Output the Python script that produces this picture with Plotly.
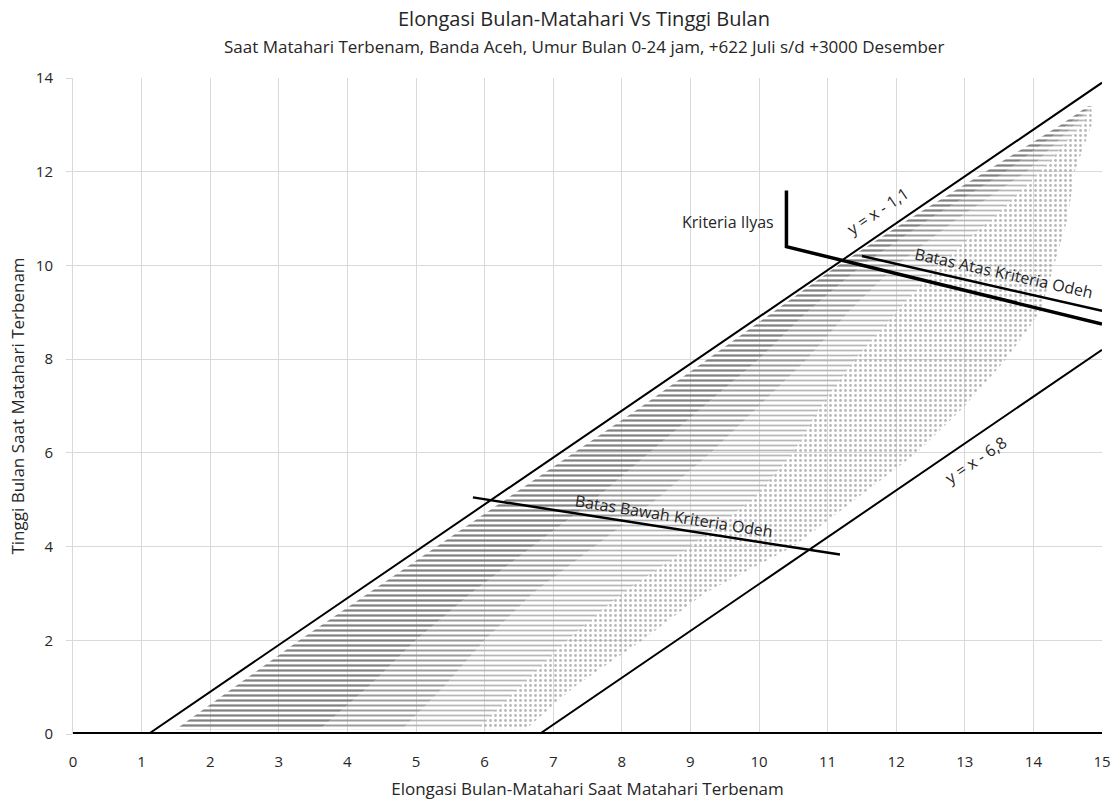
import plotly.graph_objects as go

# ---- Data ----
# Density band of simulated Moon positions (boundaries)
band_y        = [0.1, 1.0, 2.0, 3.0, 4.0, 5.0, 6.0, 7.0, 8.0, 9.0, 10.0, 11.0, 12.0, 13.0, 13.4]
band_left_x   = [1.5, 2.35, 3.3, 4.3, 5.3, 6.3, 7.3, 8.3, 9.25, 10.2, 11.15, 12.2, 13.3, 14.4, 14.8]
band_dense1_x = [3.6, 4.3, 5.0, 5.8, 6.7, 7.6, 8.4, 9.2, 10.0, 10.7, 11.5, 12.5, 13.6, 14.5, 14.85]
band_dense2_x = [4.8, 5.4, 6.0, 6.7, 7.6, 8.5, 9.3, 10.0, 10.7, 11.3, 12.0, 12.9, 13.9, 14.6, 14.85]
band_mid_x    = [5.9, 6.5, 7.2, 8.0, 9.0, 9.9, 10.5, 10.9, 11.4, 12.0, 12.6, 13.4, 14.1, 14.7, 14.85]
band_outer_x  = [6.6, 7.3, 8.3, 9.2, 10.5, 11.4, 12.3, 13.0, 13.6, 14.1, 14.3, 14.5, 14.6, 14.85, 14.85]

# Reference lines
upper_line_x = [1.1, 15.0]   # y = x - 1,1
upper_line_y = [0.0, 13.9]
lower_line_x = [6.8, 15.0]   # y = x - 6,8
lower_line_y = [0.0, 8.2]
ilyas_x = [10.4, 10.4, 15.0]
ilyas_y = [11.6, 10.4, 8.75]
odeh_atas_x = [11.5, 15.0]
odeh_atas_y = [10.2, 9.03]
odeh_bawah_x = [5.83, 11.18]
odeh_bawah_y = [5.05, 3.83]
base_x = [0.0, 15.0]
base_y = [0.0, 0.0]

x_ticks = list(range(0, 16))
y_ticks = [0, 2, 4, 6, 8, 10, 12, 14]

FONT = "Open Sans"
TXT = "#262626"

fig = go.Figure()

def band(x_a, x_b, ys, shape, size, solidity, color):
    xs = list(x_a) + list(reversed(x_b))
    yy = list(ys) + list(reversed(ys))
    fig.add_trace(go.Scatter(
        x=xs + [xs[0]], y=yy + [yy[0]], mode="lines",
        line=dict(width=0, color="rgba(0,0,0,0)"),
        fill="toself", fillcolor="rgba(0,0,0,0)",
        fillpattern=dict(shape=shape, size=size, solidity=solidity,
                         fgcolor=color, bgcolor="rgba(0,0,0,0)", fillmode="replace"),
        hoverinfo="skip", showlegend=False))

band(band_mid_x, band_outer_x, band_y, ".", 5, 0.25, "rgba(170,170,170,0.85)")
band(band_dense2_x, band_mid_x, band_y, "-", 5, 0.35, "rgba(175,175,175,0.9)")
band(band_dense1_x, band_dense2_x, band_y, "-", 5, 0.4, "rgba(145,145,145,0.9)")
band(band_left_x, band_dense1_x, band_y, "-", 5, 0.45, "rgba(115,115,115,0.9)")

def line(xs, ys, w):
    fig.add_trace(go.Scatter(x=xs, y=ys, mode="lines",
                             line=dict(color="black", width=w),
                             hoverinfo="skip", showlegend=False))

line(upper_line_x, upper_line_y, 2)
line(lower_line_x, lower_line_y, 2)
line(odeh_atas_x, odeh_atas_y, 2.5)
line(odeh_bawah_x, odeh_bawah_y, 2.5)
line(ilyas_x, ilyas_y, 3.5)
line(base_x, base_y, 4)

ann_font = dict(family=FONT, size=16, color=TXT)
annotations = [
    dict(x=9.55, y=10.93, text="Kriteria Ilyas", textangle=0),
    dict(x=11.73, y=11.16, text="y = x - 1,1", textangle=-34),
    dict(x=13.16, y=5.85, text="y = x - 6,8", textangle=-34),
    dict(x=13.57, y=9.84, text="Batas Atas Kriteria Odeh", textangle=12.5),
    dict(x=8.76, y=4.65, text="Batas Bawah Kriteria Odeh", textangle=9),
]
for a in annotations:
    a.update(xref="x", yref="y", showarrow=False, font=ann_font)

annotations += [
    dict(xref="paper", yref="paper", x=0.497, y=1.0, yshift=60, yanchor="middle",
         text="Elongasi Bulan-Matahari Vs Tinggi Bulan", showarrow=False,
         font=dict(family=FONT, size=20, color=TXT)),
    dict(xref="paper", yref="paper", x=0.497, y=1.0, yshift=32, yanchor="middle",
         text="Saat Matahari Terbenam, Banda Aceh, Umur Bulan 0-24 jam, +622 Juli s/d +3000 Desember",
         showarrow=False, font=dict(family=FONT, size=17, color=TXT)),
]

fig.update_layout(
    width=1118, height=802,
    margin=dict(l=73, r=16, t=78, b=68),
    paper_bgcolor="white", plot_bgcolor="white",
    font=dict(family=FONT, color=TXT),
    annotations=annotations,
    showlegend=False,
)

fig.update_xaxes(range=[0, 15], tickvals=x_ticks, ticktext=[str(v) for v in x_ticks],
                 showgrid=True, gridcolor="#d9d9d9", gridwidth=1, zeroline=False,
                 showline=False, ticks="", automargin=False, ticklabelstandoff=17,
                 tickfont=dict(family=FONT, size=15, color=TXT),
                 title=dict(text="Elongasi Bulan-Matahari Saat Matahari Terbenam",
                            font=dict(family=FONT, size=17, color=TXT), standoff=13))
fig.update_yaxes(range=[0, 14], tickvals=y_ticks, ticktext=[str(v) for v in y_ticks],
                 showgrid=True, gridcolor="#d9d9d9", gridwidth=1, zeroline=False,
                 showline=True, linecolor="#d9d9d9", linewidth=1, automargin=False,
                 ticks="outside", ticklen=6, tickcolor="#d9d9d9", ticklabelstandoff=10,
                 tickfont=dict(family=FONT, size=15, color=TXT),
                 title=dict(text="Tinggi Bulan Saat Matahari Terbenam",
                            font=dict(family=FONT, size=17, color=TXT), standoff=6))

fig.write_html("out.html", config={"displayModeBar": False},
               post_script="document.body.style.margin='0';document.body.style.overflow='hidden';")
